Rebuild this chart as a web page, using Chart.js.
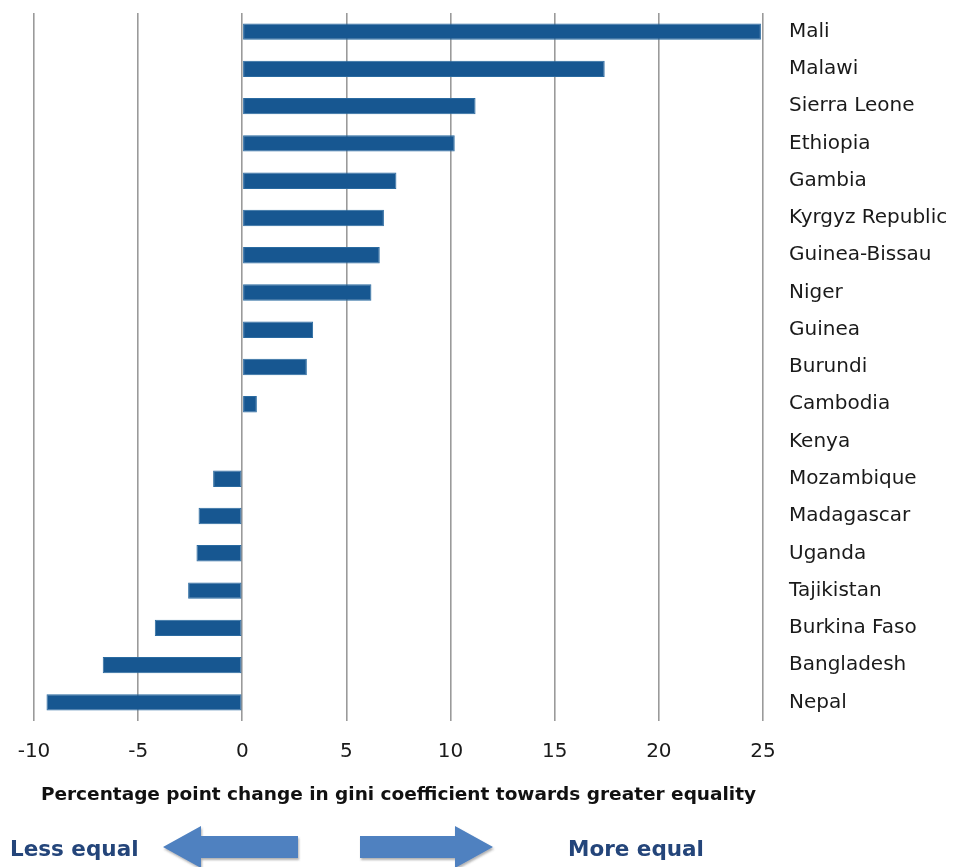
<!DOCTYPE html>
<html>
<head>
<meta charset="utf-8">
<script src="https://cdn.jsdelivr.net/npm/chart.js@4.4.1/dist/chart.umd.min.js"></script>
<style>
  html, body { margin: 0; padding: 0; background: #ffffff; }
  #wrap { position: relative; width: 959px; height: 867px; overflow: hidden; }
  #c { position: absolute; left: 0; top: 0; }
  .lbl { position: absolute; font-family: "DejaVu Sans", sans-serif; font-weight: bold; font-size: 21.5px; color: #24457a; white-space: nowrap; line-height: 28px; }
  svg { position: absolute; left: 0; top: 0; }
</style>
</head>
<body>
<div id="wrap">
  <canvas id="c" width="959" height="867"></canvas>
  <svg width="959" height="867">
    <defs>
      <filter id="sh" x="-10%" y="-20%" width="130%" height="150%">
        <feDropShadow dx="1" dy="2" stdDeviation="1.2" flood-color="#555" flood-opacity="0.45"/>
      </filter>
    </defs>
    <polygon filter="url(#sh)" fill="#4f81c0" points="163,847 201,826 201,836 298,836 298,858 201,858 201,868"/>
    <polygon filter="url(#sh)" fill="#4f81c0" points="493,847 455,826 455,836 360,836 360,858 455,858 455,868"/>
  </svg>
  <div class="lbl" style="left:10px; top:835px;">Less equal</div>
  <div class="lbl" style="left:568px; top:835px;">More equal</div>
</div>
<script>
const countries = ["Mali","Malawi","Sierra Leone","Ethiopia","Gambia","Kyrgyz Republic","Guinea-Bissau","Niger","Guinea","Burundi","Cambodia","Kenya","Mozambique","Madagascar","Uganda","Tajikistan","Burkina Faso","Bangladesh","Nepal"];
const giniChange = [24.9,17.4,11.2,10.2,7.4,6.8,6.6,6.2,3.4,3.1,0.7,0,-1.4,-2.1,-2.2,-2.6,-4.2,-6.7,-9.4];
const xTicks = [-10,-5,0,5,10,15,20,25];
const xTitle = "Percentage point change in gini coefficient towards greater equality";

const FONT = '"DejaVu Sans", sans-serif';

new Chart(document.getElementById('c'), {
  type: 'bar',
  data: {
    labels: countries,
    datasets: [{
      data: giniChange,
      backgroundColor: '#175791',
      borderColor: '#2a6aa0',
      borderWidth: 1,
      borderSkipped: false,
      barPercentage: 0.88,
      categoryPercentage: 0.5
    }]
  },
  options: {
    indexAxis: 'y',
    responsive: false,
    animation: false,
    layout: { padding: { left: 34, top: 13, right: 0, bottom: 56 } },
    plugins: { legend: { display: false }, tooltip: { enabled: false } },
    scales: {
      x: {
        min: -10, max: 25,
        afterBuildTicks: (s) => { s.ticks = xTicks.map(v => ({ value: v })); },
        grid: { color: '#9a9a9a', lineWidth: 1.6, drawTicks: false },
        border: { display: false },
        ticks: { padding: 19, color: '#1a1a1a', font: { family: FONT, size: 20 }, maxRotation: 0 },
        title: { display: true, text: xTitle, color: '#111', font: { family: FONT, size: 18.5, weight: 'bold' }, padding: { top: 12, bottom: 5 } },
        afterFit: (s) => { s.height = 90; s.paddingLeft = 0; s.paddingRight = 0; }
      },
      y: {
        position: 'right',
        grid: { display: false, drawTicks: false },
        border: { display: false },
        ticks: { padding: 26, color: '#1a1a1a', font: { family: FONT, size: 20 } },
        afterFit: (s) => { s.width = 196; s.paddingTop = 0; s.paddingBottom = 0; }
      }
    }
  }
});
</script>
</body>
</html>
